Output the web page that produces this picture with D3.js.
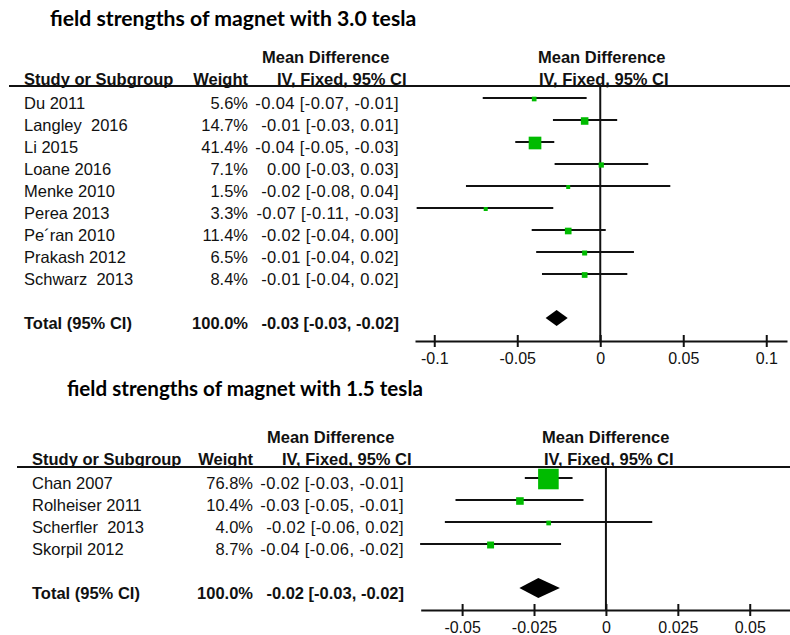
<!DOCTYPE html>
<html>
<head>
<meta charset="utf-8">
<script src="https://cdn.jsdelivr.net/npm/d3@7"></script>
<style>
  html, body { margin: 0; padding: 0; background: #fff; }
  svg { display: block; }
  text { white-space: pre; }
  .tbl { font-family: "Liberation Sans", Arial, sans-serif; font-size: 16.5px; fill: #111; }
  .hdr { font-weight: bold; }
  .cit { letter-spacing: 0.4px; }
  .ttl { font-family: Lato, "Open Sans", sans-serif; font-weight: bold; fill: #000; }
</style>
</head>
<body>
<script>
// ---------- DATA: 3.0 tesla ----------
const studies30 = ["Du 2011", "Langley  2016", "Li 2015", "Loane 2016", "Menke 2010", "Perea 2013", "Pe´ran 2010", "Prakash 2012", "Schwarz  2013"];
const weightLabels30 = ["5.6%", "14.7%", "41.4%", "7.1%", "1.5%", "3.3%", "11.4%", "6.5%", "8.4%"];
const weights30 = [5.6, 14.7, 41.4, 7.1, 1.5, 3.3, 11.4, 6.5, 8.4];
const ciLabels30 = ["-0.04 [-0.07, -0.01]", "-0.01 [-0.03, 0.01]", "-0.04 [-0.05, -0.03]", "0.00 [-0.03, 0.03]", "-0.02 [-0.08, 0.04]", "-0.07 [-0.11, -0.03]", "-0.02 [-0.04, 0.00]", "-0.01 [-0.04, 0.02]", "-0.01 [-0.04, 0.02]"];
const md30 = [-0.0398, -0.0094, -0.0393, 0.0006, -0.0193, -0.0690, -0.0193, -0.0094, -0.0094];
const lo30 = [-0.0708, -0.0285, -0.0512, -0.0275, -0.0809, -0.1106, -0.0413, -0.0386, -0.0351];
const hi30 = [-0.0082, 0.0102, -0.0277, 0.0289, 0.0422, -0.0283, 0.0033, 0.0203, 0.0163];
const total30 = [-0.0329, -0.0263, -0.0196]; // lo, md, hi
const totalLabels30 = ["Total (95% CI)", "100.0%", "-0.03 [-0.03, -0.02]"];
const ticks30 = [-0.1, -0.05, 0, 0.05, 0.1];
const tickLabels30 = ["-0.1", "-0.05", "0", "0.05", "0.1"];

// ---------- DATA: 1.5 tesla ----------
const studies15 = ["Chan 2007", "Rolheiser 2011", "Scherfler  2013", "Skorpil 2012"];
const weightLabels15 = ["76.8%", "10.4%", "4.0%", "8.7%"];
const weights15 = [76.8, 10.4, 4.0, 8.7];
const ciLabels15 = ["-0.02 [-0.03, -0.01]", "-0.03 [-0.05, -0.01]", "-0.02 [-0.06, 0.02]", "-0.04 [-0.06, -0.02]"];
const md15 = [-0.0200, -0.0299, -0.0199, -0.0401];
const lo15 = [-0.0282, -0.0523, -0.0560, -0.0646];
const hi15 = [-0.0116, -0.0078, 0.0161, -0.0156];
const total15 = [-0.0301, -0.0235, -0.0160];
const totalLabels15 = ["Total (95% CI)", "100.0%", "-0.02 [-0.03, -0.02]"];
const ticks15 = [-0.05, -0.025, 0, 0.025, 0.05];
const tickLabels15 = ["-0.05", "-0.025", "0", "0.025", "0.05"];

const titles = ["field strengths of magnet with 3.0 tesla", "field strengths of magnet with 1.5 tesla"];
const headerTop = ["Mean Difference", "Mean Difference"];
const headerBottom = ["Study or Subgroup", "Weight", "IV, Fixed, 95% CI", "IV, Fixed, 95% CI"];

const svg = d3.select("body").append("svg").attr("width", 790).attr("height", 635);

function drawPanel(p) {
  const g = svg.append("g");
  // title
  g.append("text").attr("class", "ttl").attr("x", p.titleX).attr("y", p.titleY)
    .attr("font-size", p.titleSize).text(p.title);
  // headers
  g.append("text").attr("class", "tbl hdr").attr("x", p.mdHdrX).attr("y", p.hdrY1).text(headerTop[0]);
  g.append("text").attr("class", "tbl hdr").attr("x", p.rMdHdrX).attr("y", p.hdrY1).text(headerTop[1]);
  g.append("text").attr("class", "tbl hdr").attr("x", p.studyX).attr("y", p.hdrY2).text(headerBottom[0]);
  g.append("text").attr("class", "tbl hdr").attr("x", p.weightX).attr("y", p.hdrY2).attr("text-anchor", "end").text(headerBottom[1]);
  g.append("text").attr("class", "tbl hdr").attr("x", p.ivHdrX).attr("y", p.hdrY2).text(headerBottom[2]);
  g.append("text").attr("class", "tbl hdr").attr("x", p.rIvHdrX).attr("y", p.hdrY2).text(headerBottom[3]);
  // header line
  g.append("line").attr("x1", p.lineX0).attr("x2", 790).attr("y1", p.lineY).attr("y2", p.lineY)
    .attr("stroke", "#111").attr("stroke-width", 2);

  const rows = p.studies.map((s, i) => i);
  const yKeys = p.studies.concat(["__blank", "__total"]);
  const y = d3.scalePoint().domain(yKeys).range([p.row0, p.row0 + p.rowH * (yKeys.length - 1)]);
  const x = d3.scaleLinear().domain(p.xDomain).range(p.xRange);
  const sz = d3.scaleSqrt().domain([0, 100]).range([0, p.sqK * 10]);

  // table text
  const tdy = 10.5;
  g.selectAll(".st").data(rows).join("text").attr("class", "tbl")
    .attr("x", p.studyX).attr("y", i => y(p.studies[i]) + tdy).text(i => p.studies[i]);
  g.selectAll(".wt").data(rows).join("text").attr("class", "tbl").attr("text-anchor", "end")
    .attr("x", p.weightX).attr("y", i => y(p.studies[i]) + tdy).text(i => p.weightLabels[i]);
  g.selectAll(".ci").data(rows).join("text").attr("class", "tbl cit").attr("text-anchor", "end")
    .attr("x", p.ciX).attr("y", i => y(p.studies[i]) + tdy).text(i => p.ciLabels[i]);
  const ty = y("__total") + tdy;
  g.append("text").attr("class", "tbl hdr").attr("x", p.studyX).attr("y", ty).text(p.totalLabels[0]);
  g.append("text").attr("class", "tbl hdr").attr("x", p.weightX).attr("y", ty).attr("text-anchor", "end").text(p.totalLabels[1]);
  g.append("text").attr("class", "tbl hdr").attr("x", p.ciX).attr("y", ty).attr("text-anchor", "end").text(p.totalLabels[2]);

  // zero line
  g.append("line").attr("x1", x(0)).attr("x2", x(0)).attr("y1", p.lineY).attr("y2", p.axisY)
    .attr("stroke", "#111").attr("stroke-width", 2);

  // CI lines
  g.selectAll(".cil").data(rows).join("line")
    .attr("x1", i => x(p.lo[i])).attr("x2", i => x(p.hi[i]))
    .attr("y1", i => y(p.studies[i])).attr("y2", i => y(p.studies[i]))
    .attr("stroke", "#111").attr("stroke-width", 2);
  // squares
  g.selectAll(".sq").data(rows).join("rect")
    .attr("fill", "#00bb00")
    .attr("width", i => Math.max(4, sz(p.weights[i])))
    .attr("height", i => Math.max(4, sz(p.weights[i])))
    .attr("x", i => x(p.md[i]) - Math.max(4, sz(p.weights[i])) / 2)
    .attr("y", i => y(p.studies[i]) + 1 - Math.max(4, sz(p.weights[i])) / 2);

  // diamond
  const yt = y("__total");
  const [tl, tm, th] = p.total;
  g.append("path")
    .attr("d", `M${x(tl)},${yt} L${x(tm)},${yt - p.dH} L${x(th)},${yt} L${x(tm)},${yt + p.dH} Z`)
    .attr("fill", "#000");

  // axis
  const ax = g.append("g").attr("transform", `translate(0,${p.axisY})`)
    .call(d3.axisBottom(x).tickValues(p.ticks).tickFormat((d, i) => p.tickLabels[i])
      .tickSizeOuter(0).tickSizeInner(6));
  ax.select(".domain").attr("stroke", "#111").attr("stroke-width", 2);
  ax.selectAll(".tick line").attr("y1", -6).attr("y2", 6).attr("stroke", "#111").attr("stroke-width", 2);
  ax.selectAll(".tick text").attr("y", p.tickDy).attr("dy", 0)
    .attr("font-family", "Liberation Sans, Arial, sans-serif").attr("font-size", 16).attr("fill", "#111");
}

drawPanel({
  title: titles[0], titleX: 50, titleY: 26, titleSize: 21.2,
  hdrY1: 63, hdrY2: 85, lineY: 86, lineX0: 9,
  mdHdrX: 262, rMdHdrX: 538, ivHdrX: 277, rIvHdrX: 539,
  studyX: 24, weightX: 248, ciX: 399,
  studies: studies30, weightLabels: weightLabels30, weights: weights30, ciLabels: ciLabels30,
  md: md30, lo: lo30, hi: hi30, total: total30, totalLabels: totalLabels30,
  ticks: ticks30, tickLabels: tickLabels30,
  xDomain: [-0.1116, 0.1125], xRange: [415, 787],
  row0: 98, rowH: 22, axisY: 341, tickDy: 23, sqK: 1.97, dH: 8
});

drawPanel({
  title: titles[1], titleX: 67, titleY: 396, titleSize: 20.6,
  hdrY1: 443, hdrY2: 465, lineY: 467, lineX0: 17,
  mdHdrX: 267, rMdHdrX: 542, ivHdrX: 282, rIvHdrX: 544,
  studyX: 32, weightX: 253, ciX: 404,
  studies: studies15, weightLabels: weightLabels15, weights: weights15, ciLabels: ciLabels15,
  md: md15, lo: lo15, hi: hi15, total: total15, totalLabels: totalLabels15,
  ticks: ticks15, tickLabels: tickLabels15,
  xDomain: [-0.0644, 0.0640], xRange: [420.7, 790],
  row0: 478, rowH: 22, axisY: 610, tickDy: 22.5, sqK: 2.35, dH: 10
});
</script>
</body>
</html>
